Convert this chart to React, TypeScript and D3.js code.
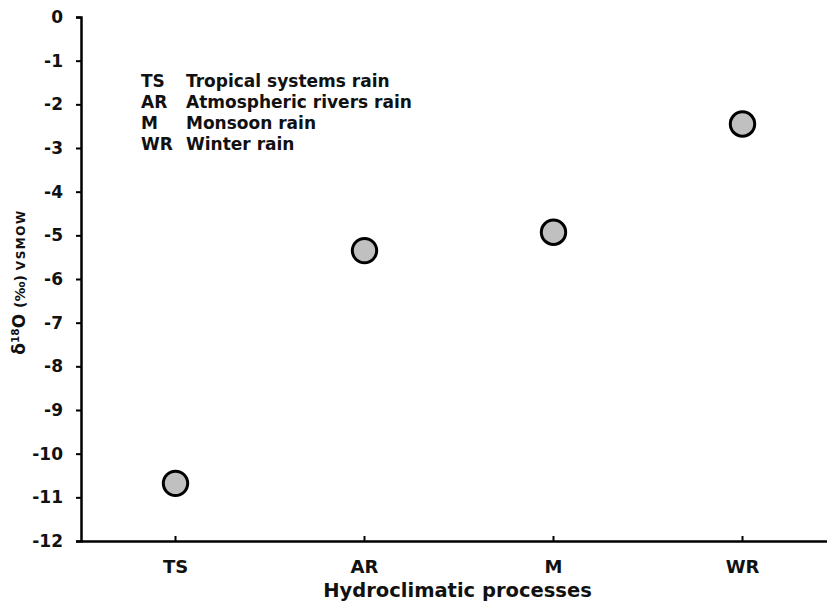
import { useEffect, useRef } from "react";
import * as d3 from "d3";

const categories = ["TS", "AR", "M", "WR"];
const d18O = [-10.68, -5.35, -4.93, -2.45];
const yTicks = [0, -1, -2, -3, -4, -5, -6, -7, -8, -9, -10, -11, -12];
const legendCodes = ["TS", "AR", "M", "WR"];
const legendNames = ["Tropical systems rain", "Atmospheric rivers rain", "Monsoon rain", "Winter rain"];

export default function App() {
  const svgRef = useRef<SVGSVGElement>(null);
  const width = 827,
    height = 604;

  useEffect(() => {
    const margin = { top: 17, left: 81, bottom: 63 };
    const font = "DejaVu Sans, Verdana, sans-serif";

    d3.select(svgRef.current).selectAll("*").remove();
    const svg = d3.select(svgRef.current).attr("width", width).attr("height", height);

    const x = d3.scaleBand().domain(categories).range([margin.left, 837]);
    const y = d3.scaleLinear().domain([-12, 0]).range([height - margin.bottom, margin.top]);

    // y-axis
    const yAxis = svg
      .append("g")
      .attr("transform", `translate(${margin.left},0)`)
      .call(d3.axisLeft(y).tickValues(yTicks).tickSize(5).tickPadding(13).tickFormat(d3.format("d")));
    yAxis.select(".domain").attr("stroke", "#000").attr("stroke-width", 2.5);
    yAxis.selectAll(".tick line").attr("stroke", "#000").attr("stroke-width", 2);
    yAxis
      .selectAll(".tick text")
      .attr("font-family", font)
      .attr("font-weight", "bold")
      .attr("font-size", 17)
      .attr("fill", "#111")
      .text((d: any) => (d < 0 ? "-" + Math.abs(d) : String(d)));

    // x-axis
    const xAxis = svg
      .append("g")
      .attr("transform", `translate(0,${height - margin.bottom})`)
      .call(d3.axisBottom(x).tickSize(-5).tickSizeOuter(0).tickPadding(19));
    xAxis.select(".domain").attr("stroke", "#000").attr("stroke-width", 2.5);
    xAxis.selectAll(".tick line").attr("stroke", "#000").attr("stroke-width", 2);
    xAxis
      .selectAll(".tick text")
      .attr("font-family", font)
      .attr("font-weight", "bold")
      .attr("font-size", 18)
      .attr("fill", "#111");

    // points
    svg
      .append("g")
      .selectAll("circle")
      .data(categories.map((c, i) => ({ c, v: d18O[i] })))
      .join("circle")
      .attr("cx", (d) => x(d.c)! + x.bandwidth() / 2)
      .attr("cy", (d) => y(d.v))
      .attr("r", 12.2)
      .attr("fill", "#c0c0c0")
      .attr("stroke", "#000")
      .attr("stroke-width", 3);

    // legend text
    const leg = svg.append("g").attr("font-family", font).attr("font-weight", "bold").attr("font-size", 17).attr("fill", "#111");
    legendCodes.forEach((code, i) => {
      leg.append("text").attr("x", 141).attr("y", 87 + i * 21).text(code);
      leg.append("text").attr("x", 186).attr("y", 87 + i * 21).text(legendNames[i]);
    });

    // x label
    svg
      .append("text")
      .attr("x", 457.5)
      .attr("y", 597)
      .attr("text-anchor", "middle")
      .attr("font-family", font)
      .attr("font-weight", "bold")
      .attr("font-size", 19.5)
      .attr("fill", "#111")
      .text("Hydroclimatic processes");

    // y label
    const yl = svg
      .append("text")
      .attr("transform", `translate(25,282) rotate(-90)`)
      .attr("text-anchor", "middle")
      .attr("font-family", font)
      .attr("font-weight", "bold")
      .attr("fill", "#111");
    yl.append("tspan").attr("font-size", 17).text("δ");
    yl.append("tspan").attr("font-size", 10.5).attr("dy", -6).text("18");
    yl.append("tspan").attr("font-size", 17).attr("dy", 6).text("O ");
    yl.append("tspan").attr("font-size", 14).text("(‰) ");
    yl.append("tspan").attr("font-size", 12).attr("letter-spacing", 1.5).text("VSMOW");
  }, []);

  return <svg ref={svgRef} style={{ position: "absolute", left: 0, top: 0, background: "#fff" }}></svg>;
}
